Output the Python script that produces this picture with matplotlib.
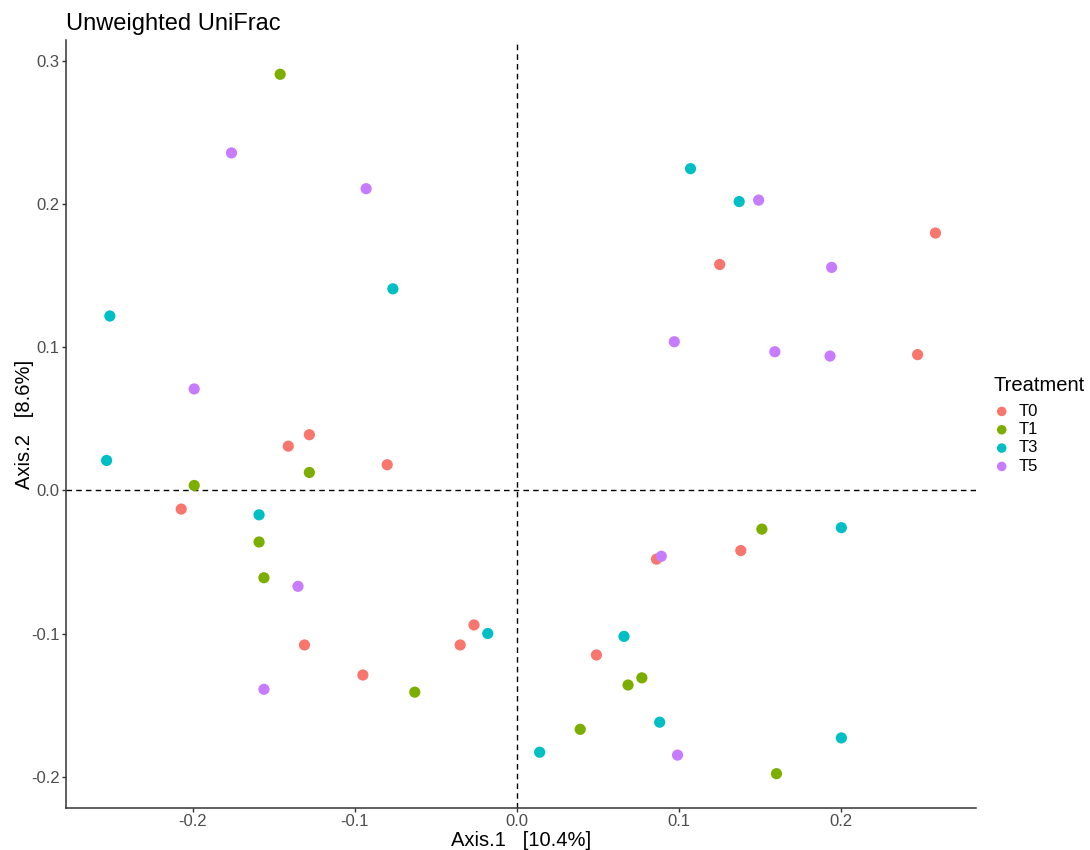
import matplotlib.pyplot as plt

groups = ["T0", "T1", "T3", "T5"]
colors = ["#F8766D", "#7CAE00", "#00BFC4", "#C77CFF"]

t0_x = [0.247, 0.258, 0.125, 0.138, 0.086, 0.049, -0.0265, -0.035, -0.095, -0.131, -0.080, -0.128, -0.141, -0.207]
t0_y = [0.095, 0.180, 0.158, -0.042, -0.048, -0.115, -0.094, -0.108, -0.129, -0.108, 0.018, 0.039, 0.031, -0.013]

t1_x = [-0.146, -0.199, -0.128, -0.159, -0.156, -0.063, 0.039, 0.0685, 0.077, 0.151, 0.160]
t1_y = [0.291, 0.0035, 0.0126, -0.036, -0.061, -0.141, -0.167, -0.136, -0.131, -0.027, -0.198]

t3_x = [-0.251, -0.253, -0.159, -0.0765, -0.018, 0.014, 0.066, 0.088, 0.107, 0.137, 0.200, 0.200]
t3_y = [0.122, 0.021, -0.017, 0.141, -0.100, -0.183, -0.102, -0.162, 0.225, 0.202, -0.026, -0.173]

t5_x = [-0.176, -0.093, -0.199, -0.135, -0.156, 0.089, 0.097, 0.099, 0.149, 0.159, 0.194, 0.193]
t5_y = [0.236, 0.211, 0.071, -0.067, -0.139, -0.046, 0.104, -0.185, 0.203, 0.097, 0.156, 0.094]

xs = [t0_x, t1_x, t3_x, t5_x]
ys = [t0_y, t1_y, t3_y, t5_y]

plt.rcParams['font.family'] = ['Liberation Sans', 'DejaVu Sans']

fig = plt.figure(figsize=(10.9, 8.5), dpi=100)
ax = fig.add_axes([0.0606, 0.0494, 0.8348, 0.9036])

ax.axhline(0, color='black', linestyle=(0, (4, 3)), linewidth=1, zorder=1)
ax.axvline(0, color='black', linestyle=(0, (4, 3)), linewidth=1, zorder=1)

for g, c, x, y in zip(groups, colors, xs, ys):
    ax.scatter(x, y, s=65, color=c, label=g, zorder=3, edgecolors='none')

ax.set_xlim(-0.278, 0.283)
ax.set_ylim(-0.222, 0.315)
ax.set_xticks([-0.2, -0.1, 0.0, 0.1, 0.2])
ax.set_xticklabels(["-0.2", "-0.1", "0.0", "0.1", "0.2"])
ax.set_yticks([-0.2, -0.1, 0.0, 0.1, 0.2, 0.3])
ax.set_yticklabels(["-0.2", "-0.1", "0.0", "0.1", "0.2", "0.3"])

for s in ['top', 'right']:
    ax.spines[s].set_visible(False)
for s in ['left', 'bottom']:
    ax.spines[s].set_linewidth(1.1)
    ax.spines[s].set_color('#333333')
ax.tick_params(axis='both', labelsize=12, color='#333333', length=3, width=1,
               labelcolor='#4D4D4D', pad=1.5)

ax.set_xlabel("Axis.1   [10.4%]", fontsize=14.5, labelpad=1)
ax.set_ylabel("Axis.2   [8.6%]", fontsize=14.5, labelpad=-2)
ax.set_title("Unweighted UniFrac", fontsize=17, loc='left', x=0.0, pad=7.5)

leg = ax.legend(title="Treatment", loc='center left', bbox_to_anchor=(1.0118, 0.4985),
                frameon=False, fontsize=12, title_fontsize=14.5, handlelength=1.0,
                handletextpad=0.52, labelspacing=0.2, markerscale=0.85, borderaxespad=0)
leg._legend_box.align = "left"
leg._legend_box.sep = 6

fig.savefig("out.png", dpi=100)
